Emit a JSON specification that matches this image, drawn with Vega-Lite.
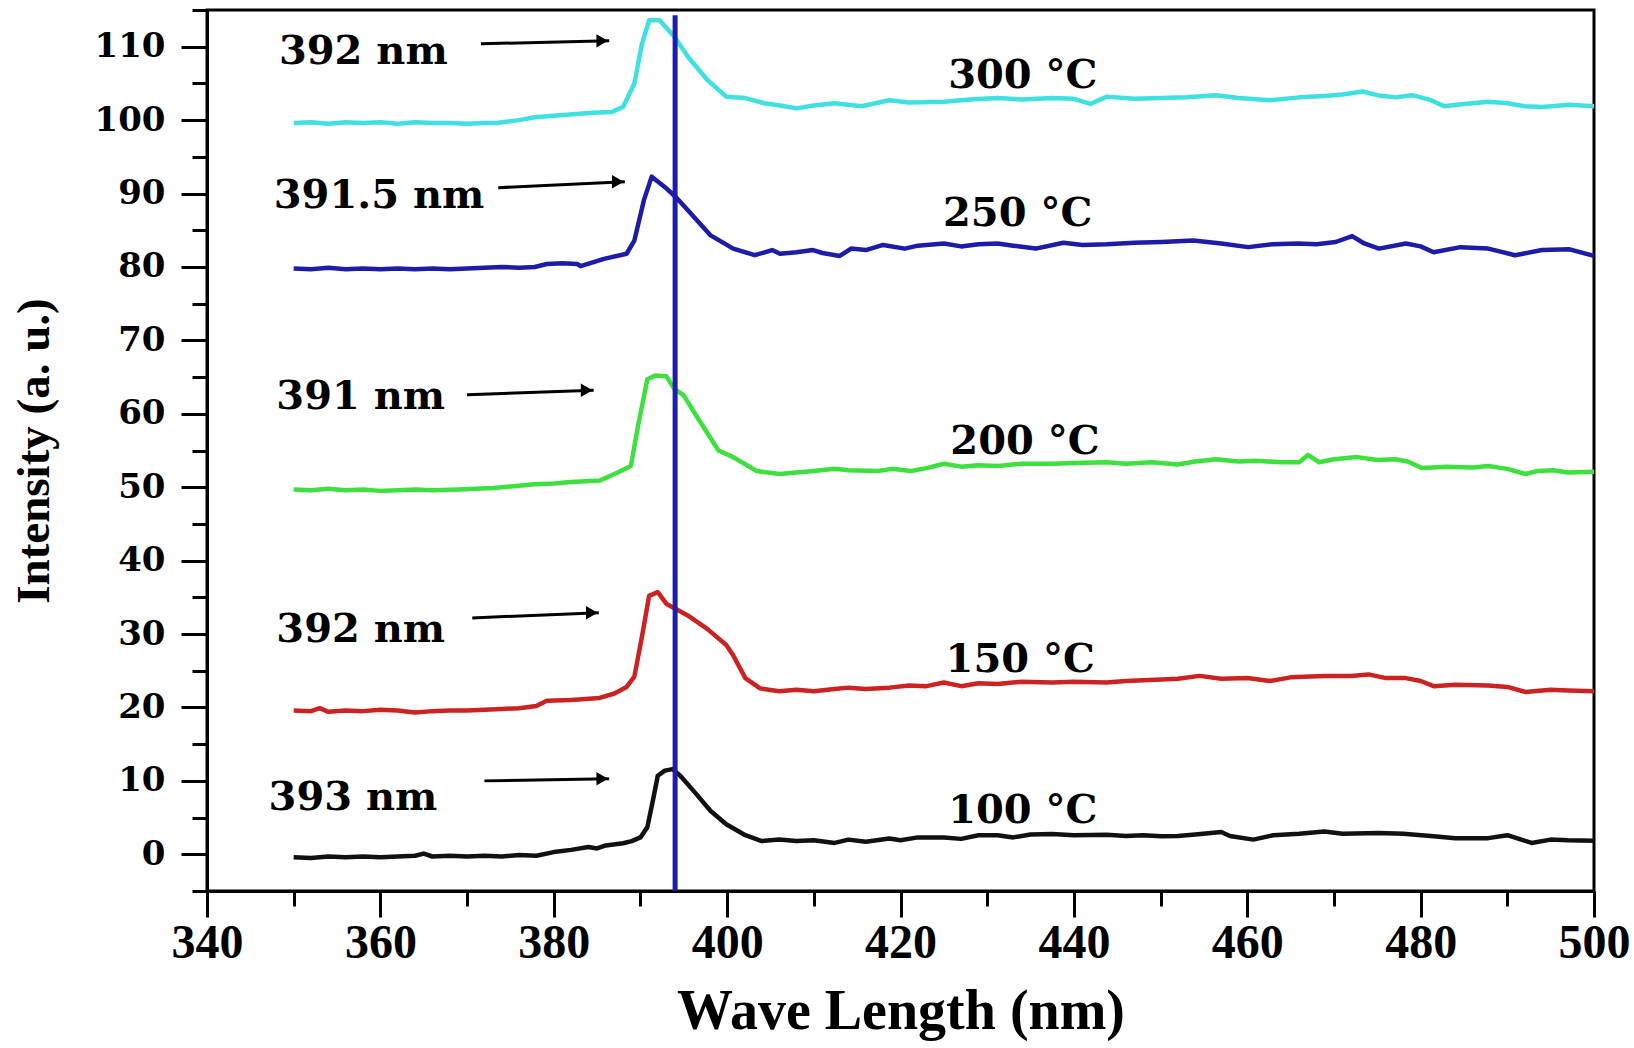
{
  "$schema": "https://vega.github.io/schema/vega-lite/v6.json",
  "width": 1387,
  "height": 881,
  "autosize": {"type": "none"},
  "padding": {"left": 207, "top": 10, "right": 40, "bottom": 157},
  "background": "white",
  "config": {"view": {"stroke": "black", "strokeWidth": 3}},
  "datasets": {
    "spectra": [
      {"temp":"100 °C","wl":350,"I":-0.4},{"temp":"100 °C","wl":352,"I":-0.5},{"temp":"100 °C","wl":354,"I":-0.3},{"temp":"100 °C","wl":356,"I":-0.4},{"temp":"100 °C","wl":358,"I":-0.3},{"temp":"100 °C","wl":360,"I":-0.4},{"temp":"100 °C","wl":362,"I":-0.3},{"temp":"100 °C","wl":364,"I":-0.2},{"temp":"100 °C","wl":365,"I":0.1},{"temp":"100 °C","wl":366,"I":-0.3},{"temp":"100 °C","wl":368,"I":-0.2},{"temp":"100 °C","wl":370,"I":-0.3},{"temp":"100 °C","wl":372,"I":-0.2},{"temp":"100 °C","wl":374,"I":-0.3},{"temp":"100 °C","wl":376,"I":-0.1},{"temp":"100 °C","wl":378,"I":-0.2},{"temp":"100 °C","wl":380,"I":0.3},{"temp":"100 °C","wl":382,"I":0.6},{"temp":"100 °C","wl":384,"I":1.0},{"temp":"100 °C","wl":385,"I":0.8},{"temp":"100 °C","wl":386,"I":1.2},{"temp":"100 °C","wl":388,"I":1.5},{"temp":"100 °C","wl":389,"I":1.8},{"temp":"100 °C","wl":390,"I":2.3},{"temp":"100 °C","wl":390.8,"I":3.7},{"temp":"100 °C","wl":391.5,"I":7.7},{"temp":"100 °C","wl":392,"I":10.7},{"temp":"100 °C","wl":392.8,"I":11.4},{"temp":"100 °C","wl":393.7,"I":11.6},{"temp":"100 °C","wl":394.6,"I":10.7},{"temp":"100 °C","wl":396.3,"I":8.4},{"temp":"100 °C","wl":398.1,"I":5.9},{"temp":"100 °C","wl":399.9,"I":4.1},{"temp":"100 °C","wl":402.1,"I":2.6},{"temp":"100 °C","wl":404,"I":1.8},{"temp":"100 °C","wl":406,"I":2.0},{"temp":"100 °C","wl":408,"I":1.8},{"temp":"100 °C","wl":410,"I":1.9},{"temp":"100 °C","wl":412.4,"I":1.55},{"temp":"100 °C","wl":414,"I":2.0},{"temp":"100 °C","wl":416,"I":1.7},{"temp":"100 °C","wl":418.7,"I":2.14},{"temp":"100 °C","wl":420,"I":1.9},{"temp":"100 °C","wl":422,"I":2.3},{"temp":"100 °C","wl":425,"I":2.3},{"temp":"100 °C","wl":427,"I":2.1},{"temp":"100 °C","wl":429,"I":2.6},{"temp":"100 °C","wl":431.2,"I":2.58},{"temp":"100 °C","wl":433,"I":2.3},{"temp":"100 °C","wl":435,"I":2.7},{"temp":"100 °C","wl":437.5,"I":2.76},{"temp":"100 °C","wl":440,"I":2.6},{"temp":"100 °C","wl":443.8,"I":2.67},{"temp":"100 °C","wl":446,"I":2.5},{"temp":"100 °C","wl":448,"I":2.6},{"temp":"100 °C","wl":450.1,"I":2.45},{"temp":"100 °C","wl":452,"I":2.5},{"temp":"100 °C","wl":454,"I":2.7},{"temp":"100 °C","wl":457,"I":3.04},{"temp":"100 °C","wl":458,"I":2.5},{"temp":"100 °C","wl":460.7,"I":2.0},{"temp":"100 °C","wl":463,"I":2.6},{"temp":"100 °C","wl":466,"I":2.8},{"temp":"100 °C","wl":468.9,"I":3.1},{"temp":"100 °C","wl":471,"I":2.8},{"temp":"100 °C","wl":475.2,"I":2.9},{"temp":"100 °C","wl":478,"I":2.8},{"temp":"100 °C","wl":481.5,"I":2.45},{"temp":"100 °C","wl":484,"I":2.2},{"temp":"100 °C","wl":487.8,"I":2.2},{"temp":"100 °C","wl":490,"I":2.6},{"temp":"100 °C","wl":492.8,"I":1.55},{"temp":"100 °C","wl":495,"I":2.0},{"temp":"100 °C","wl":497,"I":1.9},{"temp":"100 °C","wl":500,"I":1.86},

      {"temp":"150 °C","wl":350,"I":19.6},{"temp":"150 °C","wl":352,"I":19.5},{"temp":"150 °C","wl":353,"I":19.9},{"temp":"150 °C","wl":354,"I":19.4},{"temp":"150 °C","wl":356,"I":19.6},{"temp":"150 °C","wl":358,"I":19.5},{"temp":"150 °C","wl":360,"I":19.7},{"temp":"150 °C","wl":362,"I":19.6},{"temp":"150 °C","wl":364,"I":19.3},{"temp":"150 °C","wl":366,"I":19.5},{"temp":"150 °C","wl":368,"I":19.6},{"temp":"150 °C","wl":370,"I":19.6},{"temp":"150 °C","wl":372,"I":19.7},{"temp":"150 °C","wl":374,"I":19.8},{"temp":"150 °C","wl":376,"I":19.9},{"temp":"150 °C","wl":378,"I":20.2},{"temp":"150 °C","wl":379.2,"I":20.9},{"temp":"150 °C","wl":382,"I":21.0},{"temp":"150 °C","wl":385.3,"I":21.3},{"temp":"150 °C","wl":387,"I":21.9},{"temp":"150 °C","wl":388.4,"I":22.8},{"temp":"150 °C","wl":389.3,"I":24.2},{"temp":"150 °C","wl":390.2,"I":29.8},{"temp":"150 °C","wl":391,"I":35.2},{"temp":"150 °C","wl":392,"I":35.7},{"temp":"150 °C","wl":393,"I":34.1},{"temp":"150 °C","wl":394.1,"I":33.4},{"temp":"150 °C","wl":395.5,"I":32.5},{"temp":"150 °C","wl":397.7,"I":30.7},{"temp":"150 °C","wl":399.9,"I":28.5},{"temp":"150 °C","wl":400.7,"I":27.1},{"temp":"150 °C","wl":402.1,"I":24.0},{"temp":"150 °C","wl":403.8,"I":22.6},{"temp":"150 °C","wl":406,"I":22.2},{"temp":"150 °C","wl":408,"I":22.4},{"temp":"150 °C","wl":410,"I":22.2},{"temp":"150 °C","wl":412.4,"I":22.5},{"temp":"150 °C","wl":414,"I":22.7},{"temp":"150 °C","wl":416,"I":22.5},{"temp":"150 °C","wl":418.7,"I":22.7},{"temp":"150 °C","wl":421,"I":23.0},{"temp":"150 °C","wl":423,"I":22.9},{"temp":"150 °C","wl":425,"I":23.4},{"temp":"150 °C","wl":427,"I":22.9},{"temp":"150 °C","wl":429,"I":23.3},{"temp":"150 °C","wl":431.2,"I":23.2},{"temp":"150 °C","wl":434,"I":23.5},{"temp":"150 °C","wl":437.5,"I":23.4},{"temp":"150 °C","wl":440,"I":23.5},{"temp":"150 °C","wl":443.8,"I":23.4},{"temp":"150 °C","wl":446,"I":23.6},{"temp":"150 °C","wl":450.1,"I":23.8},{"temp":"150 °C","wl":452,"I":23.9},{"temp":"150 °C","wl":454.5,"I":24.3},{"temp":"150 °C","wl":457,"I":23.9},{"temp":"150 °C","wl":460,"I":24.0},{"temp":"150 °C","wl":462.6,"I":23.6},{"temp":"150 °C","wl":465,"I":24.1},{"temp":"150 °C","wl":468.9,"I":24.3},{"temp":"150 °C","wl":472,"I":24.3},{"temp":"150 °C","wl":474,"I":24.5},{"temp":"150 °C","wl":476,"I":24.0},{"temp":"150 °C","wl":478.3,"I":24.0},{"temp":"150 °C","wl":480,"I":23.6},{"temp":"150 °C","wl":481.5,"I":22.9},{"temp":"150 °C","wl":484,"I":23.1},{"temp":"150 °C","wl":487.8,"I":23.0},{"temp":"150 °C","wl":490,"I":22.8},{"temp":"150 °C","wl":492.1,"I":22.1},{"temp":"150 °C","wl":495,"I":22.4},{"temp":"150 °C","wl":497,"I":22.3},{"temp":"150 °C","wl":500,"I":22.2},

      {"temp":"200 °C","wl":350,"I":49.7},{"temp":"200 °C","wl":352,"I":49.6},{"temp":"200 °C","wl":354,"I":49.8},{"temp":"200 °C","wl":356,"I":49.6},{"temp":"200 °C","wl":358,"I":49.7},{"temp":"200 °C","wl":360,"I":49.5},{"temp":"200 °C","wl":362,"I":49.6},{"temp":"200 °C","wl":364,"I":49.7},{"temp":"200 °C","wl":366,"I":49.6},{"temp":"200 °C","wl":369,"I":49.7},{"temp":"200 °C","wl":371,"I":49.8},{"temp":"200 °C","wl":373,"I":49.9},{"temp":"200 °C","wl":375,"I":50.1},{"temp":"200 °C","wl":377.8,"I":50.4},{"temp":"200 °C","wl":380,"I":50.5},{"temp":"200 °C","wl":382,"I":50.7},{"temp":"200 °C","wl":385.3,"I":50.9},{"temp":"200 °C","wl":387,"I":51.8},{"temp":"200 °C","wl":388.9,"I":52.9},{"temp":"200 °C","wl":389.7,"I":58.2},{"temp":"200 °C","wl":390.8,"I":64.7},{"temp":"200 °C","wl":391.7,"I":65.2},{"temp":"200 °C","wl":393,"I":65.1},{"temp":"200 °C","wl":393.9,"I":63.4},{"temp":"200 °C","wl":395,"I":62.5},{"temp":"200 °C","wl":396.3,"I":60.0},{"temp":"200 °C","wl":399,"I":55.0},{"temp":"200 °C","wl":400.7,"I":54.1},{"temp":"200 °C","wl":403.4,"I":52.2},{"temp":"200 °C","wl":406,"I":51.8},{"temp":"200 °C","wl":408,"I":52.0},{"temp":"200 °C","wl":410,"I":52.2},{"temp":"200 °C","wl":412.4,"I":52.5},{"temp":"200 °C","wl":414,"I":52.3},{"temp":"200 °C","wl":417.4,"I":52.2},{"temp":"200 °C","wl":419,"I":52.5},{"temp":"200 °C","wl":421.2,"I":52.2},{"temp":"200 °C","wl":423,"I":52.6},{"temp":"200 °C","wl":425,"I":53.2},{"temp":"200 °C","wl":427,"I":52.8},{"temp":"200 °C","wl":429,"I":53.0},{"temp":"200 °C","wl":431.2,"I":52.9},{"temp":"200 °C","wl":434,"I":53.2},{"temp":"200 °C","wl":437.5,"I":53.2},{"temp":"200 °C","wl":440,"I":53.3},{"temp":"200 °C","wl":443.8,"I":53.4},{"temp":"200 °C","wl":446,"I":53.2},{"temp":"200 °C","wl":449,"I":53.4},{"temp":"200 °C","wl":452,"I":53.1},{"temp":"200 °C","wl":454,"I":53.5},{"temp":"200 °C","wl":456.4,"I":53.8},{"temp":"200 °C","wl":459,"I":53.5},{"temp":"200 °C","wl":461,"I":53.6},{"temp":"200 °C","wl":463.9,"I":53.4},{"temp":"200 °C","wl":466,"I":53.4},{"temp":"200 °C","wl":467,"I":54.4},{"temp":"200 °C","wl":468.3,"I":53.4},{"temp":"200 °C","wl":470,"I":53.8},{"temp":"200 °C","wl":472.7,"I":54.1},{"temp":"200 °C","wl":475,"I":53.7},{"temp":"200 °C","wl":477.1,"I":53.8},{"temp":"200 °C","wl":478.5,"I":53.5},{"temp":"200 °C","wl":480.2,"I":52.6},{"temp":"200 °C","wl":483,"I":52.8},{"temp":"200 °C","wl":486,"I":52.7},{"temp":"200 °C","wl":487.8,"I":52.9},{"temp":"200 °C","wl":490,"I":52.5},{"temp":"200 °C","wl":492.1,"I":51.8},{"temp":"200 °C","wl":493.5,"I":52.2},{"temp":"200 °C","wl":495.3,"I":52.3},{"temp":"200 °C","wl":497,"I":52.0},{"temp":"200 °C","wl":500,"I":52.1},

      {"temp":"250 °C","wl":350,"I":79.8},{"temp":"250 °C","wl":352,"I":79.7},{"temp":"250 °C","wl":354,"I":79.9},{"temp":"250 °C","wl":356,"I":79.7},{"temp":"250 °C","wl":358,"I":79.8},{"temp":"250 °C","wl":360,"I":79.7},{"temp":"250 °C","wl":362,"I":79.8},{"temp":"250 °C","wl":364,"I":79.7},{"temp":"250 °C","wl":366,"I":79.8},{"temp":"250 °C","wl":368,"I":79.7},{"temp":"250 °C","wl":370,"I":79.8},{"temp":"250 °C","wl":372,"I":79.9},{"temp":"250 °C","wl":374,"I":80.0},{"temp":"250 °C","wl":376,"I":79.9},{"temp":"250 °C","wl":377.8,"I":80.0},{"temp":"250 °C","wl":379.2,"I":80.4},{"temp":"250 °C","wl":381,"I":80.5},{"temp":"250 °C","wl":382.7,"I":80.4},{"temp":"250 °C","wl":383.1,"I":80.1},{"temp":"250 °C","wl":385.8,"I":81.1},{"temp":"250 °C","wl":388.4,"I":81.8},{"temp":"250 °C","wl":389.3,"I":83.6},{"temp":"250 °C","wl":390.4,"I":89.1},{"temp":"250 °C","wl":391.3,"I":92.3},{"temp":"250 °C","wl":392.8,"I":90.9},{"temp":"250 °C","wl":394.1,"I":89.5},{"temp":"250 °C","wl":395.5,"I":87.7},{"temp":"250 °C","wl":398.1,"I":84.3},{"temp":"250 °C","wl":400.7,"I":82.5},{"temp":"250 °C","wl":403.2,"I":81.6},{"temp":"250 °C","wl":405.2,"I":82.3},{"temp":"250 °C","wl":406.1,"I":81.8},{"temp":"250 °C","wl":408,"I":82.0},{"temp":"250 °C","wl":409.9,"I":82.3},{"temp":"250 °C","wl":411,"I":81.9},{"temp":"250 °C","wl":413,"I":81.5},{"temp":"250 °C","wl":414.3,"I":82.5},{"temp":"250 °C","wl":416,"I":82.3},{"temp":"250 °C","wl":418,"I":83.0},{"temp":"250 °C","wl":420.5,"I":82.5},{"temp":"250 °C","wl":422,"I":82.9},{"temp":"250 °C","wl":425,"I":83.2},{"temp":"250 °C","wl":427,"I":82.8},{"temp":"250 °C","wl":429,"I":83.1},{"temp":"250 °C","wl":431.2,"I":83.2},{"temp":"250 °C","wl":433,"I":82.9},{"temp":"250 °C","wl":435.6,"I":82.5},{"temp":"250 °C","wl":438.8,"I":83.3},{"temp":"250 °C","wl":441,"I":83.0},{"temp":"250 °C","wl":443.8,"I":83.1},{"temp":"250 °C","wl":447,"I":83.3},{"temp":"250 °C","wl":450.1,"I":83.4},{"temp":"250 °C","wl":453.8,"I":83.6},{"temp":"250 °C","wl":457,"I":83.2},{"temp":"250 °C","wl":460.1,"I":82.7},{"temp":"250 °C","wl":463,"I":83.1},{"temp":"250 °C","wl":465.8,"I":83.2},{"temp":"250 °C","wl":468,"I":83.1},{"temp":"250 °C","wl":470.2,"I":83.4},{"temp":"250 °C","wl":472.1,"I":84.2},{"temp":"250 °C","wl":473.5,"I":83.2},{"temp":"250 °C","wl":475.2,"I":82.5},{"temp":"250 °C","wl":478.3,"I":83.2},{"temp":"250 °C","wl":480,"I":82.8},{"temp":"250 °C","wl":481.5,"I":82.0},{"temp":"250 °C","wl":484.6,"I":82.7},{"temp":"250 °C","wl":487.8,"I":82.5},{"temp":"250 °C","wl":490.9,"I":81.6},{"temp":"250 °C","wl":494,"I":82.3},{"temp":"250 °C","wl":497.2,"I":82.4},{"temp":"250 °C","wl":500,"I":81.5},

      {"temp":"300 °C","wl":350,"I":99.6},{"temp":"300 °C","wl":352,"I":99.7},{"temp":"300 °C","wl":354,"I":99.5},{"temp":"300 °C","wl":356,"I":99.7},{"temp":"300 °C","wl":358,"I":99.6},{"temp":"300 °C","wl":360,"I":99.7},{"temp":"300 °C","wl":362,"I":99.5},{"temp":"300 °C","wl":364,"I":99.7},{"temp":"300 °C","wl":366,"I":99.6},{"temp":"300 °C","wl":368,"I":99.6},{"temp":"300 °C","wl":370,"I":99.5},{"temp":"300 °C","wl":372,"I":99.6},{"temp":"300 °C","wl":373.4,"I":99.6},{"temp":"300 °C","wl":376,"I":100.0},{"temp":"300 °C","wl":377.8,"I":100.4},{"temp":"300 °C","wl":380,"I":100.6},{"temp":"300 °C","wl":382.2,"I":100.8},{"temp":"300 °C","wl":384.5,"I":101.0},{"temp":"300 °C","wl":386.7,"I":101.1},{"temp":"300 °C","wl":388,"I":101.8},{"temp":"300 °C","wl":389.3,"I":105.0},{"temp":"300 °C","wl":390.2,"I":110.5},{"temp":"300 °C","wl":391,"I":113.6},{"temp":"300 °C","wl":392.2,"I":113.6},{"temp":"300 °C","wl":393.9,"I":111.4},{"temp":"300 °C","wl":395.5,"I":108.6},{"temp":"300 °C","wl":397.7,"I":105.5},{"temp":"300 °C","wl":399.9,"I":103.2},{"temp":"300 °C","wl":402.1,"I":103.0},{"temp":"300 °C","wl":404.3,"I":102.3},{"temp":"300 °C","wl":406.1,"I":102.0},{"temp":"300 °C","wl":408,"I":101.6},{"temp":"300 °C","wl":410,"I":102.0},{"temp":"300 °C","wl":412.4,"I":102.3},{"temp":"300 °C","wl":415.5,"I":101.9},{"temp":"300 °C","wl":418.7,"I":102.7},{"temp":"300 °C","wl":421,"I":102.4},{"temp":"300 °C","wl":425,"I":102.5},{"temp":"300 °C","wl":428,"I":102.8},{"temp":"300 °C","wl":431.2,"I":103.0},{"temp":"300 °C","wl":434,"I":102.8},{"temp":"300 °C","wl":437.5,"I":103.0},{"temp":"300 °C","wl":440,"I":102.9},{"temp":"300 °C","wl":441.9,"I":102.2},{"temp":"300 °C","wl":443.8,"I":103.2},{"temp":"300 °C","wl":447,"I":102.9},{"temp":"300 °C","wl":450.1,"I":103.0},{"temp":"300 °C","wl":453,"I":103.1},{"temp":"300 °C","wl":456.4,"I":103.4},{"temp":"300 °C","wl":459,"I":103.0},{"temp":"300 °C","wl":462.6,"I":102.7},{"temp":"300 °C","wl":466,"I":103.1},{"temp":"300 °C","wl":468.9,"I":103.3},{"temp":"300 °C","wl":471,"I":103.5},{"temp":"300 °C","wl":473.3,"I":103.9},{"temp":"300 °C","wl":475,"I":103.4},{"temp":"300 °C","wl":477.1,"I":103.1},{"temp":"300 °C","wl":479,"I":103.4},{"temp":"300 °C","wl":481,"I":102.8},{"temp":"300 °C","wl":482.7,"I":101.9},{"temp":"300 °C","wl":485,"I":102.2},{"temp":"300 °C","wl":487.8,"I":102.5},{"temp":"300 °C","wl":490,"I":102.3},{"temp":"300 °C","wl":492,"I":101.9},{"temp":"300 °C","wl":494,"I":101.8},{"temp":"300 °C","wl":497.2,"I":102.1},{"temp":"300 °C","wl":500,"I":101.9}
    ],
    "vline": [{"wl": 394, "I": -5, "I2": 114.3}],
    "arrows": [
      {"wl": 371.6, "wl2": 386.4, "I": 110.4, "I2": 110.8},
      {"wl": 373.6, "wl2": 388.2, "I": 90.8, "I2": 91.6},
      {"wl": 370.0, "wl2": 384.6, "I": 62.6, "I2": 63.2},
      {"wl": 370.6, "wl2": 385.2, "I": 32.2, "I2": 32.9},
      {"wl": 372.0, "wl2": 386.4, "I": 10.0, "I2": 10.3}
    ],
    "labels": [
      {"label": "392 nm", "wl": 348.3, "I": 109.3},
      {"label": "391.5 nm", "wl": 347.7, "I": 89.6},
      {"label": "391 nm", "wl": 348.0, "I": 62.3},
      {"label": "392 nm", "wl": 348.0, "I": 30.6},
      {"label": "393 nm", "wl": 347.1, "I": 7.6},
      {"label": "300 °C", "wl": 425.5, "I": 106.0},
      {"label": "250 °C", "wl": 424.9, "I": 87.2},
      {"label": "200 °C", "wl": 425.75, "I": 56.2},
      {"label": "150 °C", "wl": 425.2, "I": 26.5},
      {"label": "100 °C", "wl": 425.5, "I": 5.9}
    ]
  },
  "encoding": {
    "x": {
      "field": "wl", "type": "quantitative",
      "scale": {"domain": [340, 500], "nice": false, "zero": false},
      "axis": {
        "title": "Wave Length (nm)",
        "values": [340,350,360,370,380,390,400,410,420,430,440,450,460,470,480,490,500],
        "labelExpr": "datum.value % 20 === 0 ? datum.label : ''",
        "tickSize": {"condition": {"test": "datum.value % 20 === 0", "value": 26}, "value": 15},
        "tickWidth": 3, "tickColor": "black",
        "domainWidth": 3, "domainColor": "black",
        "grid": false,
        "labelFont": "Liberation Serif", "labelFontWeight": "bold", "labelFontSize": 48, "labelColor": "black",
        "labelPadding": 2, "labelFlush": false, "labelOverlap": false,
        "titleFont": "Liberation Serif", "titleFontWeight": "bold", "titleFontSize": 56, "titleColor": "black",
        "titlePadding": 17
      }
    },
    "y": {
      "field": "I", "type": "quantitative",
      "scale": {"domain": [-5, 115], "nice": false, "zero": false},
      "axis": {
        "title": "Intensity (a. u.)",
        "values": [-5,0,5,10,15,20,25,30,35,40,45,50,55,60,65,70,75,80,85,90,95,100,105,110,115],
        "labelExpr": "(datum.value % 10 === 0 && datum.value >= 0 && datum.value <= 110) ? datum.label : ''",
        "tickSize": {"condition": {"test": "datum.value % 10 === 0", "value": 26}, "value": 15},
        "tickWidth": 3, "tickColor": "black",
        "domainWidth": 3, "domainColor": "black",
        "grid": false,
        "labelFont": "DejaVu Serif", "labelFontWeight": "bold", "labelFontSize": 34, "labelColor": "black",
        "labelPadding": 16, "labelFlush": false, "labelOverlap": false,
        "titleFont": "Liberation Serif", "titleFontWeight": "bold", "titleFontSize": 47, "titleColor": "black",
        "titlePadding": 36
      }
    }
  },
  "layer": [
    {
      "data": {"name": "spectra"},
      "mark": {"type": "line", "strokeWidth": 4.5, "strokeJoin": "round"},
      "encoding": {
        "color": {
          "field": "temp", "type": "nominal",
          "scale": {"domain": ["100 °C","150 °C","200 °C","250 °C","300 °C"], "range": ["#111111","#cc2222","#3ee03e","#1c1ca8","#3fe0e2"]},
          "legend": null
        }
      }
    },
    {
      "data": {"name": "vline"},
      "mark": {"type": "rule", "color": "#1c1cb4", "strokeWidth": 5},
      "encoding": {"y2": {"field": "I2"}}
    },
    {
      "data": {"name": "arrows"},
      "mark": {"type": "rule", "color": "black", "strokeWidth": 3},
      "encoding": {"x2": {"field": "wl2"}, "y2": {"field": "I2"}}
    },
    {
      "data": {"name": "arrows"},
      "mark": {"type": "point", "shape": "triangle-right", "filled": true, "color": "black", "opacity": 1, "size": 180, "xOffset": -7},
      "encoding": {"x": {"field": "wl2", "type": "quantitative"}, "y": {"field": "I2", "type": "quantitative"}}
    },
    {
      "data": {"name": "labels"},
      "mark": {"type": "text", "align": "left", "baseline": "middle", "font": "DejaVu Serif", "fontWeight": "bold", "fontSize": 40, "color": "black"},
      "encoding": {"text": {"field": "label"}}
    }
  ]
}
